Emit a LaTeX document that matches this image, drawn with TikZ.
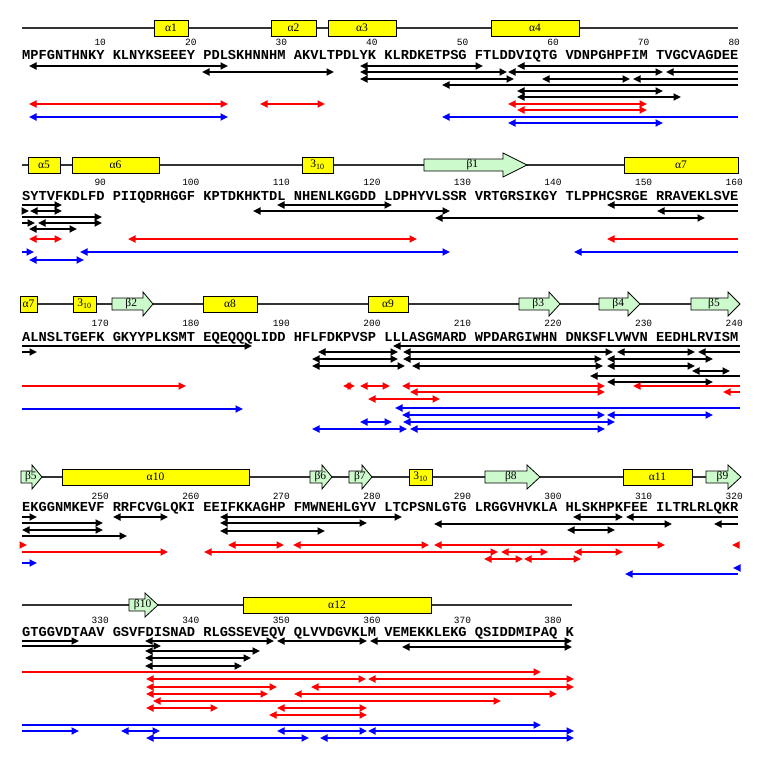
\documentclass[tikz,border=0pt]{standalone}
\usepackage{fontspec}
\usepackage{tikz}
\usetikzlibrary{arrows.meta}
\newfontfamily\seqfont{Liberation Mono}
\newfontfamily\ssefont{Liberation Serif}

\definecolor{helixyellow}{RGB}{255,255,0}
\definecolor{sheetgreen}{RGB}{204,250,204}
\definecolor{bondred}{RGB}{255,0,0}
\definecolor{bondblue}{RGB}{0,0,255}

% helix box: x1, x2, track y, label
\newcommand{\helixbox}[4]{%
  \filldraw[helix] (#1,#3-8) rectangle (#2,#3+8);
  \node[sselabel] at ({(#1+#2)/2},#3) {#4};}
% strand arrow: x1, body end, tip, track y, label
\newcommand{\strand}[5]{%
  \filldraw[sheet] (#1,#4-6) -- (#2,#4-6) -- (#2,#4-12) -- (#3,#4)
    -- (#2,#4+12) -- (#2,#4+6) -- (#1,#4+6) -- cycle;
  \node[sselabel] at ({#1+0.47*(#3-#1)},#4) {#5};}

\begin{document}
\begin{tikzpicture}[x=1pt,y=-1pt,
    track/.style={draw=black!80, line width=1.3pt},
    helix/.style={fill=helixyellow, draw=black, line width=0.8pt},
    sheet/.style={fill=sheetgreen, draw=black, line width=0.8pt},
    sselabel/.style={font=\ssefont\fontsize{11.5}{11.5}\selectfont, inner sep=0pt},
    seq/.style={font=\seqfont\bfseries\fontsize{13.72}{14}\selectfont, inner sep=0pt, anchor=base west},
    num/.style={font=\seqfont\fontsize{9.5}{9.5}\selectfont, inner sep=0pt, anchor=base},
    hbblack/.style={draw=black, line width=1.7pt},
    hbred/.style={draw=bondred, line width=1.7pt},
    hbblue/.style={draw=bondblue, line width=1.7pt},
    >={Triangle[length=7.5pt,width=7pt]}]
  \useasboundingbox (0,0) rectangle (759,765);

  % Block 1: residues 1-80
  \draw[track] (22,28) -- (738,28);
  \helixbox{154}{188}{28}{α1}
  \helixbox{271}{316}{28}{α2}
  \helixbox{328}{396}{28}{α3}
  \helixbox{491}{579}{28}{α4}
  \node[num] (n10) at (100.2,46) {10};
  \node[num] (n20) at (190.8,46) {20};
  \node[num] (n30) at (281.3,46) {30};
  \node[num] (n40) at (371.9,46) {40};
  \node[num] (n50) at (462.5,46) {50};
  \node[num] (n60) at (553.0,46) {60};
  \node[num] (n70) at (643.6,46) {70};
  \node[num] (n80) at (734.2,46) {80};
  \node[seq] (seq1) at (22,60) {MPFGNTHNKY KLNYKSEEEY PDLSKHNNHM AKVLTPDLYK KLRDKETPSG FTLDDVIQTG VDNPGHPFIM TVGCVAGDEE};

  \draw[hbblack,<->] (29,66) -- (228,66);
  \draw[hbblack,<->] (360,66) -- (483,66);
  \draw[hbblack,<-] (517,66) -- (738,66);
  \draw[hbblack,<->] (202,72) -- (334,72);
  \draw[hbblack,<->] (360,72) -- (507,72);
  \draw[hbblack,<->] (508,72) -- (663,72);
  \draw[hbblack,<-] (666,72) -- (738,72);
  \draw[hbblack,<->] (360,79) -- (514,79);
  \draw[hbblack,<->] (542,79) -- (630,79);
  \draw[hbblack,<-] (633,79) -- (738,79);
  \draw[hbblack,<-] (442,85) -- (738,85);
  \draw[hbblack,<->] (517,91) -- (663,91);
  \draw[hbblack,<->] (517,97) -- (681,97);
  \draw[hbred,<->] (29,104) -- (228,104);
  \draw[hbred,<->] (260,104) -- (325,104);
  \draw[hbred,<->] (508,104) -- (647,104);
  \draw[hbred,<->] (517,110) -- (647,110);
  \draw[hbblue,<->] (29,117) -- (228,117);
  \draw[hbblue,<-] (442,117) -- (738,117);
  \draw[hbblue,<->] (508,123) -- (663,123);

  % Block 2: residues 81-160
  \draw[track] (22,165) -- (738,165);
  \helixbox{28}{60}{165}{α5}
  \helixbox{72}{159}{165}{α6}
  \helixbox{302}{333}{165}{3\textsubscript{10}}
  \strand{424}{503}{527}{165}{β1}
  \helixbox{624}{738}{165}{α7}
  \node[num] (n90) at (100.2,185.3) {90};
  \node[num] (n100) at (190.8,185.3) {100};
  \node[num] (n110) at (281.3,185.3) {110};
  \node[num] (n120) at (371.9,185.3) {120};
  \node[num] (n130) at (462.5,185.3) {130};
  \node[num] (n140) at (553.0,185.3) {140};
  \node[num] (n150) at (643.6,185.3) {150};
  \node[num] (n160) at (734.2,185.3) {160};
  \node[seq] (seq2) at (22,200.5) {SYTVFKDLFD PIIQDRHGGF KPTDKHKTDL NHENLKGGDD LDPHYVLSSR VRTGRSIKGY TLPPHCSRGE RRAVEKLSVE};

  \draw[hbblack,->] (22,205) -- (62,205);
  \draw[hbblack,<->] (277,205) -- (392,205);
  \draw[hbblack,<-] (607,205) -- (738,205);
  \draw[hbblack,->] (22,211) -- (29,211);
  \draw[hbblack,<->] (30,211) -- (62,211);
  \draw[hbblack,<->] (253,211) -- (450,211);
  \draw[hbblack,<-] (657,211) -- (738,211);
  \draw[hbblack,->] (22,217) -- (102,217);
  \draw[hbblack,<->] (435,218) -- (705,218);
  \draw[hbblack,->] (22,223) -- (35,223);
  \draw[hbblack,<->] (38,223) -- (102,223);
  \draw[hbblack,<->] (29,229) -- (77,229);
  \draw[hbred,<->] (29,239) -- (62,239);
  \draw[hbred,<->] (128,239) -- (417,239);
  \draw[hbred,<-] (607,239) -- (738,239);
  \draw[hbblue,->] (22,252) -- (34,252);
  \draw[hbblue,<->] (80,252) -- (450,252);
  \draw[hbblue,<-] (574,252) -- (738,252);
  \draw[hbblue,<->] (29,260) -- (84,260);

  % Block 3: residues 161-240
  \draw[track] (22,304) -- (738,304);
  \helixbox{20}{37}{304}{α7}
  \helixbox{73}{96}{304}{3\textsubscript{10}}
  \strand{112}{143}{153}{304}{β2}
  \helixbox{203}{257}{304}{α8}
  \helixbox{368}{408}{304}{α9}
  \strand{519}{549}{560}{304}{β3}
  \strand{599}{628}{640}{304}{β4}
  \strand{691}{728}{740}{304}{β5}
  \node[num] (n170) at (100.2,326) {170};
  \node[num] (n180) at (190.8,326) {180};
  \node[num] (n190) at (281.3,326) {190};
  \node[num] (n200) at (371.9,326) {200};
  \node[num] (n210) at (462.5,326) {210};
  \node[num] (n220) at (553.0,326) {220};
  \node[num] (n230) at (643.6,326) {230};
  \node[num] (n240) at (734.2,326) {240};
  \node[seq] (seq3) at (22,341) {ALNSLTGEFK GKYYPLKSMT EQEQQQLIDD HFLFDKPVSP LLLASGMARD WPDARGIWHN DNKSFLVWVN EEDHLRVISM};

  \draw[hbblack,->] (22,346) -- (252,346);
  \draw[hbblack,<-] (393,346) -- (740,346);
  \draw[hbblack,->] (22,352) -- (37,352);
  \draw[hbblack,<->] (318,352) -- (398,352);
  \draw[hbblack,<->] (403,352) -- (613,352);
  \draw[hbblack,<->] (617,352) -- (695,352);
  \draw[hbblack,<-] (698,352) -- (740,352);
  \draw[hbblack,<->] (312,359) -- (398,359);
  \draw[hbblack,<->] (403,359) -- (602,359);
  \draw[hbblack,<->] (607,359) -- (713,359);
  \draw[hbblack,<->] (312,366) -- (405,366);
  \draw[hbblack,<->] (412,366) -- (603,366);
  \draw[hbblack,<->] (607,366) -- (695,366);
  \draw[hbblack,<->] (692,371) -- (730,371);
  \draw[hbblack,<-] (590,376) -- (740,376);
  \draw[hbblack,<->] (607,382) -- (713,382);
  \draw[hbred,->] (22,386) -- (186,386);
  \draw[hbred,<->] (343,386) -- (355,386);
  \draw[hbred,<->] (360,386) -- (390,386);
  \draw[hbred,<->] (402,386) -- (605,386);
  \draw[hbred,<-] (633,386) -- (740,386);
  \draw[hbred,<-] (723,392) -- (740,392);
  \draw[hbred,<->] (410,392) -- (605,392);
  \draw[hbred,<->] (368,399) -- (440,399);
  \draw[hbblue,->] (22,409) -- (243,409);
  \draw[hbblue,<-] (395,408) -- (740,408);
  \draw[hbblue,<->] (402,415) -- (605,415);
  \draw[hbblue,<->] (607,415) -- (713,415);
  \draw[hbblue,<->] (360,422) -- (392,422);
  \draw[hbblue,<->] (403,422) -- (615,422);
  \draw[hbblue,<->] (312,429) -- (407,429);
  \draw[hbblue,<->] (410,429) -- (605,429);

  % Block 4: residues 241-320
  \draw[track] (22,477) -- (738,477);
  \strand{21}{32}{42}{477}{β5}
  \helixbox{62}{249}{477}{α10}
  \strand{310}{322}{332}{477}{β6}
  \strand{349}{362}{372}{477}{β7}
  \helixbox{409}{432}{477}{3\textsubscript{10}}
  \strand{485}{527}{540}{477}{β8}
  \helixbox{623}{692}{477}{α11}
  \strand{706}{728}{741}{477}{β9}
  \node[num] (n250) at (100.2,499.3) {250};
  \node[num] (n260) at (190.8,499.3) {260};
  \node[num] (n270) at (281.3,499.3) {270};
  \node[num] (n280) at (371.9,499.3) {280};
  \node[num] (n290) at (462.5,499.3) {290};
  \node[num] (n300) at (553.0,499.3) {300};
  \node[num] (n310) at (643.6,499.3) {310};
  \node[num] (n320) at (734.2,499.3) {320};
  \node[seq] (seq4) at (22,511.5) {EKGGNMKEVF RRFCVGLQKI EEIFKKAGHP FMWNEHLGYV LTCPSNLGTG LRGGVHVKLA HLSKHPKFEE ILTRLRLQKR};

  \draw[hbblack,->] (22,517) -- (37,517);
  \draw[hbblack,<->] (113,517) -- (168,517);
  \draw[hbblack,<->] (220,517) -- (402,517);
  \draw[hbblack,<->] (573,517) -- (623,517);
  \draw[hbblack,<-] (626,517) -- (738,517);
  \draw[hbblack,->] (22,523) -- (103,523);
  \draw[hbblack,<->] (220,523) -- (367,523);
  \draw[hbblack,<->] (434,524) -- (672,524);
  \draw[hbblack,<-] (714,524) -- (738,524);
  \draw[hbblack,<->] (22,530) -- (103,530);
  \draw[hbblack,<->] (220,531) -- (325,531);
  \draw[hbblack,<->] (567,530) -- (615,530);
  \draw[hbblack,->] (22,536) -- (127,536);
  \draw[hbred,->] (20,545) -- (27,545);
  \draw[hbred,<->] (228,545) -- (284,545);
  \draw[hbred,<->] (293,545) -- (429,545);
  \draw[hbred,<->] (434,545) -- (665,545);
  \draw[hbred,<-] (732,545) -- (738,545);
  \draw[hbred,->] (22,552) -- (168,552);
  \draw[hbred,<->] (204,552) -- (498,552);
  \draw[hbred,<->] (501,552) -- (548,552);
  \draw[hbred,<->] (574,552) -- (623,552);
  \draw[hbred,<->] (484,559) -- (523,559);
  \draw[hbred,<->] (524,559) -- (581,559);
  \draw[hbblue,->] (22,563) -- (37,563);
  \draw[hbblue,<-] (733,568) -- (738,568);
  \draw[hbblue,<-] (625,574) -- (738,574);

  % Block 5: residues 321-381
  \draw[track] (22,605) -- (572,605);
  \strand{129}{145}{158}{605}{β10}
  \helixbox{243}{431}{605}{α12}
  \node[num] (n330) at (100.2,623.3) {330};
  \node[num] (n340) at (190.8,623.3) {340};
  \node[num] (n350) at (281.3,623.3) {350};
  \node[num] (n360) at (371.9,623.3) {360};
  \node[num] (n370) at (462.5,623.3) {370};
  \node[num] (n380) at (553.0,623.3) {380};
  \node[seq] (seq5) at (22,636.5) {GTGGVDTAAV GSVFDISNAD RLGSSEVEQV QLVVDGVKLM VEMEKKLEKG QSIDDMIPAQ K};

  \draw[hbblack,->] (22,641) -- (79,641);
  \draw[hbblack,<->] (145,641) -- (274,641);
  \draw[hbblack,<->] (277,641) -- (367,641);
  \draw[hbblack,<->] (370,641) -- (572,641);
  \draw[hbblack,->] (22,646) -- (161,646);
  \draw[hbblack,<->] (402,647) -- (572,647);
  \draw[hbblack,<->] (145,651) -- (260,651);
  \draw[hbblack,<->] (145,658) -- (251,658);
  \draw[hbblack,<->] (145,666) -- (242,666);
  \draw[hbred,->] (22,672) -- (541,672);
  \draw[hbred,<->] (146,679) -- (366,679);
  \draw[hbred,<->] (368,679) -- (574,679);
  \draw[hbred,<->] (146,687) -- (277,687);
  \draw[hbred,<->] (311,687) -- (574,687);
  \draw[hbred,<->] (146,694) -- (268,694);
  \draw[hbred,<->] (294,694) -- (557,694);
  \draw[hbred,<->] (153,701) -- (501,701);
  \draw[hbred,<->] (146,708) -- (218,708);
  \draw[hbred,<->] (277,708) -- (367,708);
  \draw[hbred,<->] (269,715) -- (367,715);
  \draw[hbblue,->] (22,725) -- (541,725);
  \draw[hbblue,->] (22,731) -- (79,731);
  \draw[hbblue,<->] (121,731) -- (160,731);
  \draw[hbblue,<->] (277,731) -- (367,731);
  \draw[hbblue,<->] (368,731) -- (574,731);
  \draw[hbblue,<->] (146,738) -- (309,738);
  \draw[hbblue,<->] (320,738) -- (574,738);
\end{tikzpicture}
\end{document}
